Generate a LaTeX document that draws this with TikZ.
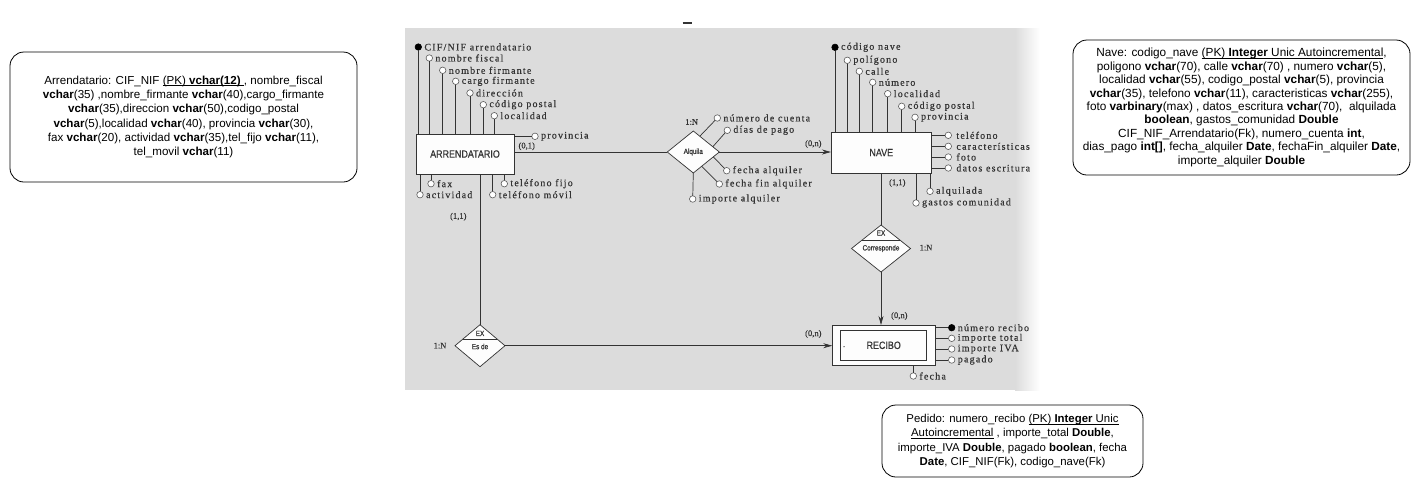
\documentclass[tikz,border=0pt]{standalone}
\usepackage{fontspec}
\setmainfont{Liberation Sans}
\newfontfamily\erfont[LetterSpace=12, FakeBold=0.4]{Liberation Serif}
\newfontfamily\cardfont[FakeBold=0.4]{Liberation Serif}
\newfontfamily\entfont[FakeStretch=0.85, FakeBold=0.6]{Liberation Sans}
\usetikzlibrary{shapes.geometric,arrows.meta,calc}
\definecolor{scan}{HTML}{DCDCDC}
\definecolor{ink}{HTML}{333333}
\newcommand\uln[1]{\setbox0\hbox{#1}\rlap{\rule[-1.6pt]{\wd0}{0.6pt}}\box0}
\tikzset{
  note/.style={draw, rounded corners=14pt, line width=0.8pt, align=center, inner sep=0pt},
  ent/.style={draw=ink, fill=white!94!scan, line width=0.7pt, inner sep=0pt, outer sep=0pt,
    text=ink, font=\entfont\fontsize{10.5}{12}\selectfont},
  rel/.style={diamond, draw=ink, fill=white!94!scan, line width=0.7pt, inner sep=0pt, outer sep=0pt},
  reltext/.style={text=ink, inner sep=0pt, font=\entfont\fontsize{7.5}{9}\selectfont},
  attr/.style={circle, draw=ink!80, fill=white, line width=0.6pt, minimum size=6.5pt,
    inner sep=0pt, outer sep=0pt},
  key/.style={attr, fill=black, draw=black},
  lbl/.style={anchor=west, inner sep=1pt, xshift=1.5pt, text=ink,
    font=\erfont\fontsize{10}{11}\selectfont},
  card/.style={text=ink, inner sep=0pt, font=\cardfont\fontsize{8.5}{10}\selectfont},
}

\begin{document}
\begin{tikzpicture}[x=1pt, y=-1pt]
    \useasboundingbox (0, 0) rectangle (1413, 499);

    % notes
    \node [note, minimum width=347pt, minimum height=130pt, font=\fontsize{11.6}{14.3}\selectfont]
      (arrnote) at (183.5, 117) {Arrendatario: CIF\_NIF \uln{(PK)}\uln{ \textbf{vchar(12)} }, nombre\_fiscal\\
      \textbf{vchar}(35) ,nombre\_firmante \textbf{vchar}(40),cargo\_firmante\\
      \textbf{vchar}(35),direccion \textbf{vchar}(50),codigo\_postal\\
      \textbf{vchar}(5),localidad \textbf{vchar}(40), provincia \textbf{vchar}(30),\\
      fax \textbf{vchar}(20), actividad \textbf{vchar}(35),tel\_fijo \textbf{vchar}(11),\\
      tel\_movil \textbf{vchar}(11)};
    \node [note, minimum width=337pt, minimum height=135pt, font=\fontsize{11.8}{13.4}\selectfont]
      (navenote) at (1241.5, 107.5) {Nave: codigo\_nave \uln{(PK) \textbf{Integer} Unic Autoincremental},\\
      poligono \textbf{vchar}(70), calle \textbf{vchar}(70) , numero \textbf{vchar}(5),\\
      localidad \textbf{vchar}(55), codigo\_postal \textbf{vchar}(5), provincia\\
      \textbf{vchar}(35), telefono \textbf{vchar}(11), caracteristicas \textbf{vchar}(255),\\
      foto \textbf{varbinary}(max) , datos\_escritura \textbf{vchar}(70), \ alquilada\\
      \textbf{boolean}, gastos\_comunidad \textbf{Double}\\
      CIF\_NIF\_Arrendatario(Fk), numero\_cuenta \textbf{int},\\
      dias\_pago \textbf{int[]}, fecha\_alquiler \textbf{Date}, fechaFin\_alquiler \textbf{Date},\\
      importe\_alquiler \textbf{Double}};
    \node [note, minimum width=261pt, minimum height=72pt, font=\fontsize{11.4}{14.3}\selectfont]
      (recnote) at (1012.5, 441) {Pedido: numero\_recibo \uln{(PK) \textbf{Integer} Unic}\\
      \uln{Autoincremental}\ , importe\_total \textbf{Double},\\
      importe\_IVA \textbf{Double}, pagado \textbf{boolean}, fecha\\
      \textbf{Date}, CIF\_NIF(Fk), codigo\_nave(Fk)};

    % scanned diagram
    \fill [scan] (405, 28) rectangle (1015, 390);
    \shade [left color=scan, right color=white] (1015, 28) rectangle (1040, 390);
    \draw [ink, line width=1.8pt] (682.7, 23.3) -- (691.7, 23.3);

    \begin{scope}[color=ink, line width=0.7pt]
    \node [ent, minimum width=98pt, minimum height=40pt] (arr) at (465, 154) {ARRENDATARIO};
    \node [ent, minimum width=100.7pt, minimum height=40.7pt] (nave) at (881.3, 152.6) {NAVE};
    \node [ent, minimum width=102.7pt, minimum height=40pt] (recibo) at (883.6, 345) {};
    \node [ent, minimum width=86pt, minimum height=30.7pt] (recin) at (883.7, 345.3) {RECIBO};
    \fill (844, 346.7) circle (0.7);

    \node [rel, minimum width=52pt, minimum height=42pt] (alq) at (693.3, 152) {};
    \node [reltext] at (alq) {Alquila};
    \node [rel, minimum width=50pt, minimum height=42pt] (esde) at (480, 345.7) {};
    \draw ($(esde.north)!0.68!(esde.west)$) -- ($(esde.north)!0.68!(esde.east)$);
    \node [reltext] at (480, 333.4) {EX};
    \node [reltext] at (480, 346.5) {Es de};
    \node [rel, minimum width=59pt, minimum height=47pt] (corr) at (881, 248.5) {};
    \draw ($(corr.north)!0.64!(corr.west)$) -- ($(corr.north)!0.64!(corr.east)$);
    \node [reltext] at (881, 233) {EX};
    \node [reltext] at (881, 248.5) {Corresponde};

    % connectors
    \draw (alq.west) -- (alq.west -| arr.east);
    \draw [-{Stealth[length=9pt, width=5pt]}] (alq.east) -- (alq.east -| nave.west);
    \draw (esde.north) -- (esde.north |- arr.south);
    \draw [-{Stealth[length=9pt, width=5pt]}] (esde.east) -- (esde.east -| recibo.west);
    \draw (corr.north) -- (corr.north |- nave.south);
    \draw [-{Stealth[length=9pt, width=5pt]}] (corr.south) -- (corr.south |- recibo.north);

    \node [card] at (526.7, 146.3) {(0,1)};
    \node [card] at (691.7, 122) {1:N};
    \node [card] at (813.3, 144) {(0,n)};
    \node [card] at (458.3, 216.7) {(1,1)};
    \node [card] at (897.3, 183) {(1,1)};
    \node [card] at (926, 247.7) {1:N};
    \node [card] at (899.3, 316) {(0,n)};
    \node [card] at (440, 345.7) {1:N};
    \node [card] at (813.3, 334) {(0,n)};

    % arrendatario attributes
    \node [key] (cif) at (418.3, 47) {};
    \draw (cif) -- (cif |- arr.north);
    \node [lbl] at (cif.east) {CIF/NIF arrendatario};
    \foreach \x/\y/\t [count=\i] in {429.3/58/nombre fiscal, 442.7/70.3/nombre firmante,
        455.7/81.3/cargo firmante, 470/93/dirección, 483.3/104.7/código postal, 494.3/115.7/localidad} {
      \node [attr] (arrup\i) at (\x, \y) {};
      \draw (arrup\i) -- (arrup\i |- arr.north);
      \node [lbl] at (arrup\i.east) {\t};
    }
    \foreach \x/\y/\t [count=\i] in {431/183.7/fax, 420/194.7/actividad,
        504.3/183.7/teléfono fijo, 492.7/194.7/teléfono móvil} {
      \node [attr] (arrdn\i) at (\x, \y) {};
      \draw (arrdn\i) -- (arrdn\i |- arr.south);
      \node [lbl] at (arrdn\i.east) {\t};
    }
    \node [attr] (prov) at (535, 136.3) {};
    \draw (prov) -- (prov -| arr.east);
    \node [lbl] at (prov.east) {provincia};

    % alquila attributes
    \foreach \t/\a/\b/\f/\x/\y [count=\i] in {número de cuenta/north/east/0.25/717.3/118,
        días de pago/north/east/0.75/727.3/130.3, fecha alquiler/east/south/0.23/726.7/170.7,
        fecha fin alquiler/east/south/0.68/719.3/184} {
      \node [attr] (alqat\i) at (\x, \y) {};
      \draw ($(alq.\a)!\f!(alq.\b)$) -- (alqat\i);
      \node [lbl] at (alqat\i.east) {\t};
    }
    \node [attr] (imp) at (692.7, 199) {};
    \draw (alq.south) -- (imp);
    \node [lbl] at (imp.east) {importe alquiler};

    % nave attributes
    \node [key] (codnave) at (835, 47.3) {};
    \draw (codnave) -- (codnave |- nave.north);
    \node [lbl] at (codnave.east) {código nave};
    \foreach \x/\y/\t [count=\i] in {847.3/60.3/polígono, 859.3/71.3/calle, 872.7/82.3/número,
        887.7/93.7/localidad, 901.7/106.3/código postal, 915/117.3/provincia} {
      \node [attr] (naveup\i) at (\x, \y) {};
      \draw (naveup\i) -- (naveup\i |- nave.north);
      \node [lbl] at (naveup\i.east) {\t};
    }
    \foreach \y/\t [count=\i] in {135.3/teléfono, 146.3/características, 157/foto, 168/datos escritura} {
      \node [attr] (naveri\i) at (948.3, \y) {};
      \draw (naveri\i) -- (naveri\i -| nave.east);
      \node [lbl, xshift=2pt] at (naveri\i.east) {\t};
    }
    \foreach \x/\y/\t [count=\i] in {930/191.3/alquilada, 916/203/gastos comunidad} {
      \node [attr] (navedn\i) at (\x, \y) {};
      \draw (navedn\i) -- (navedn\i |- nave.south);
      \node [lbl] at (navedn\i.east) {\t};
    }

    % recibo attributes
    \node [key] (numrec) at (951.7, 327.7) {};
    \draw (numrec) -- (numrec -| recibo.east);
    \node [lbl] at (numrec.east) {número recibo};
    \foreach \y/\t [count=\i] in {338.3/importe total, 349/importe IVA, 360/pagado} {
      \node [attr] (recri\i) at (951.7, \y) {};
      \draw (recri\i) -- (recri\i -| recibo.east);
      \node [lbl] at (recri\i.east) {\t};
    }
    \node [attr] (fecha) at (913.3, 376) {};
    \draw (fecha) -- (fecha |- recibo.south);
    \node [lbl] at (fecha.east) {fecha};
    \end{scope}
\end{tikzpicture}
\end{document}
